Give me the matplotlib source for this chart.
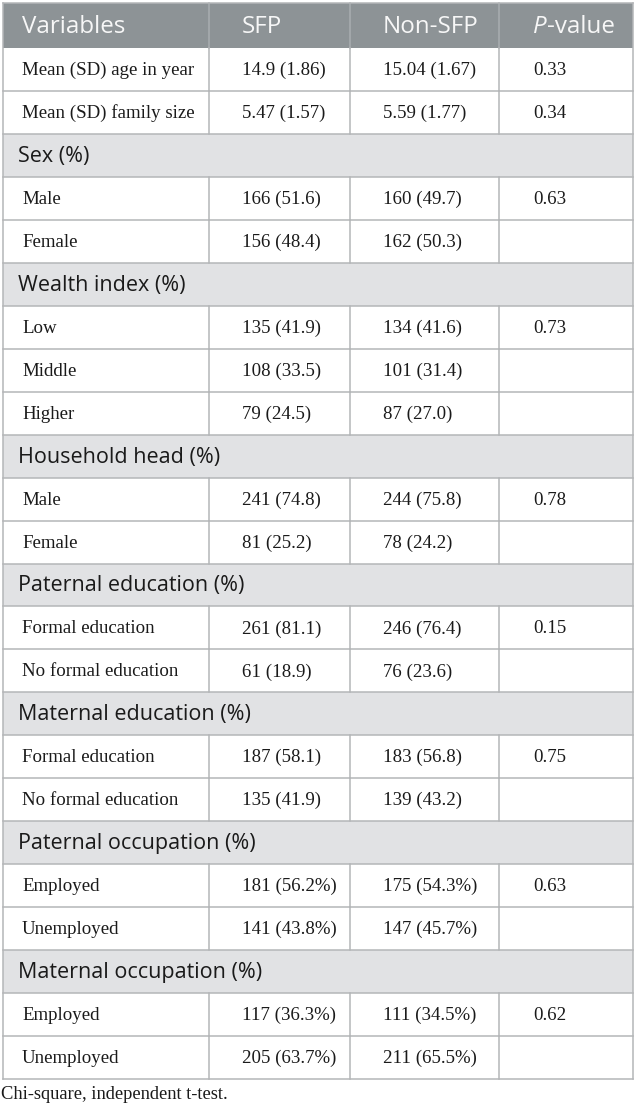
import matplotlib
matplotlib.use("Agg")
import matplotlib.pyplot as plt
from matplotlib.patches import Rectangle

# ── Table content ──────────────────────────────────────────────────────────
col_headers = ["Variables", "SFP", "Non-SFP", "P-value"]

row_labels = [
    "Mean (SD) age in year", "Mean (SD) family size",
    "Sex (%)", "Male", "Female",
    "Wealth index (%)", "Low", "Middle", "Higher",
    "Household head (%)", "Male", "Female",
    "Paternal education (%)", "Formal education", "No formal education",
    "Maternal education (%)", "Formal education", "No formal education",
    "Paternal occupation (%)", "Employed", "Unemployed",
    "Maternal occupation (%)", "Employed", "Unemployed",
]
# None marks a section header row
sfp_vals = [
    "14.9 (1.86)", "5.47 (1.57)",
    None, "166 (51.6)", "156 (48.4)",
    None, "135 (41.9)", "108 (33.5)", "79 (24.5)",
    None, "241 (74.8)", "81 (25.2)",
    None, "261 (81.1)", "61 (18.9)",
    None, "187 (58.1)", "135 (41.9)",
    None, "181 (56.2%)", "141 (43.8%)",
    None, "117 (36.3%)", "205 (63.7%)",
]
non_sfp_vals = [
    "15.04 (1.67)", "5.59 (1.77)",
    None, "160 (49.7)", "162 (50.3)",
    None, "134 (41.6)", "101 (31.4)", "87 (27.0)",
    None, "244 (75.8)", "78 (24.2)",
    None, "246 (76.4)", "76 (23.6)",
    None, "183 (56.8)", "139 (43.2)",
    None, "175 (54.3%)", "147 (45.7%)",
    None, "111 (34.5%)", "211 (65.5%)",
]
p_vals = [
    "0.33", "0.34",
    None, "0.63", "",
    None, "0.73", "", "",
    None, "0.78", "",
    None, "0.15", "",
    None, "0.75", "",
    None, "0.63", "",
    None, "0.62", "",
]
footnote = "Chi-square, independent t-test."

# ── Layout (pixels) ────────────────────────────────────────────────────────
W, H = 639, 1111
LEFT, RIGHT = 3, 633
COL_X = [3, 209, 350, 499, 633]
HEAD_TOP, HEAD_BOT = 3, 48
ROW_H = 42.96

HEAD_BG = "#8d9396"
HEAD_SEP = "#a9aeb1"
SEC_BG = "#e1e2e4"
LINE = "#b4b6b8"
LW = 1.1

SANS = ["Open Sans", "DejaVu Sans"]
SERIF = ["Liberation Serif", "DejaVu Serif"]

fig = plt.figure(figsize=(W / 100, H / 100), dpi=100)
ax = fig.add_axes([0, 0, 1, 1])
ax.set_xlim(0, W)
ax.set_ylim(H, 0)
ax.axis("off")

# header
ax.add_patch(Rectangle((LEFT, HEAD_TOP), RIGHT - LEFT, HEAD_BOT - HEAD_TOP,
                       facecolor=HEAD_BG, edgecolor="none"))
for x in COL_X[1:-1]:
    ax.plot([x, x], [HEAD_TOP, HEAD_BOT], color=HEAD_SEP, lw=LW)

head_y = (HEAD_TOP + HEAD_BOT) / 2
text_off = [19, 33, 33, 34]
HEAD_FS = 17.4
for i, h in enumerate(col_headers[:3]):
    ax.text(COL_X[i] + text_off[i], head_y + 1.5, h, family=SANS, fontsize=HEAD_FS,
            color="#f7f7f7", va="center", ha="left")
# P-value with italic P
renderer = fig.canvas.get_renderer()
tp = ax.text(COL_X[3] + text_off[3], head_y + 1.5, "P", family=SANS, fontsize=HEAD_FS,
             style="italic", color="#f7f7f7", va="center", ha="left")
bb = tp.get_window_extent(renderer)
x_after = ax.transData.inverted().transform((bb.x1, bb.y0))[0]
ax.text(x_after, head_y + 1.5, "-value", family=SANS, fontsize=HEAD_FS,
        color="#f7f7f7", va="center", ha="left")

# body rows
for r, label in enumerate(row_labels):
    y0 = HEAD_BOT + r * ROW_H
    y1 = y0 + ROW_H
    yc = (y0 + y1) / 2
    if sfp_vals[r] is None:
        ax.add_patch(Rectangle((LEFT, y0), RIGHT - LEFT, ROW_H,
                               facecolor=SEC_BG, edgecolor="none"))
        ax.text(18, yc + 1, label, family=SANS, fontsize=15.5, color="#1a1a1a",
                va="center", ha="left")
    else:
        for x in COL_X[1:-1]:
            ax.plot([x, x], [y0, y1], color=LINE, lw=LW)
        cells = [label, sfp_vals[r], non_sfp_vals[r], p_vals[r]]
        for i, c in enumerate(cells):
            ax.text(COL_X[i] + text_off[i], yc + 1, c, family=SERIF, fontsize=13.6,
                    color="#1a1a1a", va="center", ha="left")
    ax.plot([LEFT, RIGHT], [y1, y1], color=LINE, lw=LW)

# outer border
table_bot = HEAD_BOT + len(row_labels) * ROW_H
ax.plot([LEFT, LEFT], [HEAD_TOP, table_bot], color=LINE, lw=LW)
ax.plot([RIGHT, RIGHT], [HEAD_TOP, table_bot], color=LINE, lw=LW)
ax.plot([LEFT, RIGHT], [HEAD_TOP, HEAD_TOP], color=LINE, lw=LW)

ax.text(1, table_bot + 15, footnote, family=SERIF, fontsize=13.3, color="#1a1a1a",
        va="center", ha="left")

fig.savefig("out.png", dpi=100)
